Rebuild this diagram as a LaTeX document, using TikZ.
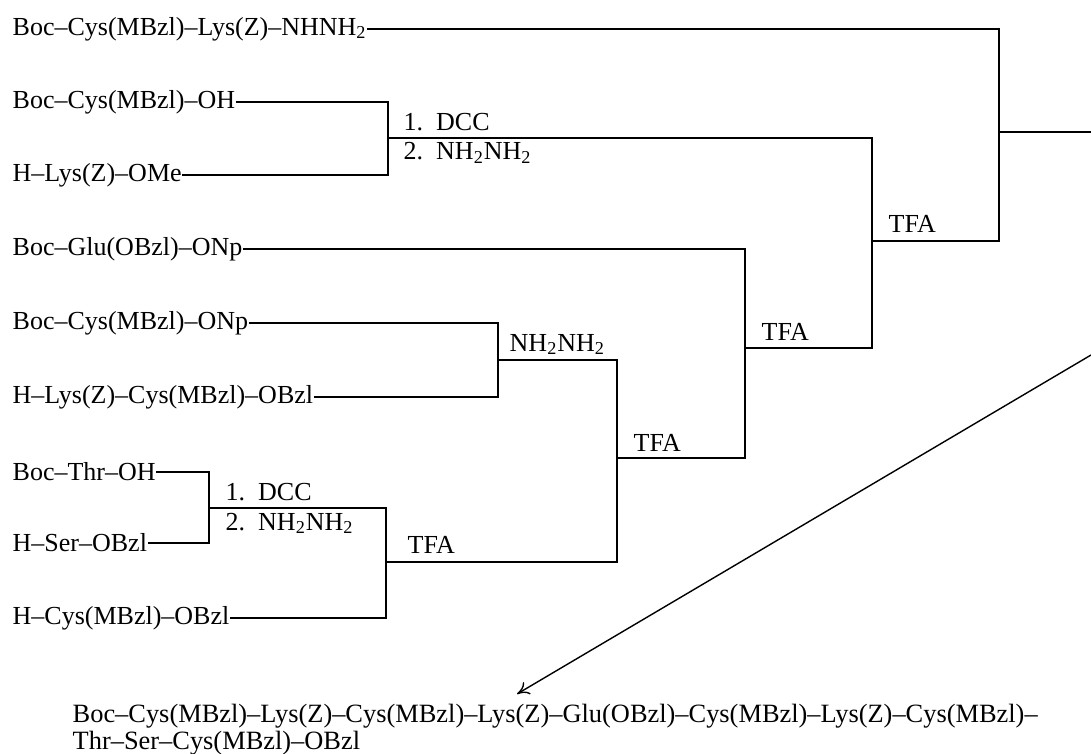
\documentclass[tikz,border=0pt]{standalone}
\usepackage{fontspec}
\setmainfont{Liberation Serif}
\usetikzlibrary{arrows.meta}

\begin{document}
\begin{tikzpicture}[x=0.5pt, y=-0.5pt, line width=0.7pt,
    every node/.style={inner sep=0pt, font=\fontsize{13}{13.5}\selectfont},
    cpd/.style={anchor=west},
    reag/.style={anchor=base west}]
    \useasboundingbox (0,0) rectangle (1091,754);

    % Ausgangsstoffe
    \node[cpd] (a1) at (12,29) {Boc--Cys(MBzl)--Lys(Z)--NHNH\textsubscript{2}};
    \node[cpd] (a2) at (12,102) {Boc--Cys(MBzl)--OH};
    \node[cpd] (a3) at (12,175) {H--Lys(Z)--OMe};
    \node[cpd] (a4) at (12,249) {Boc--Glu(OBzl)--ONp};
    \node[cpd] (a5) at (12,323) {Boc--Cys(MBzl)--ONp};
    \node[cpd] (a6) at (12,397) {H--Lys(Z)--Cys(MBzl)--OBzl};
    \node[cpd] (a7) at (12,472) {Boc--Thr--OH};
    \node[cpd] (a8) at (12,543) {H--Ser--OBzl};
    \node[cpd] (a9) at (12,618) {H--Cys(MBzl)--OBzl};

    % Verzweigungen
    \coordinate (k1) at (388,138);
    \coordinate (k2) at (872,241);
    \coordinate (k3) at (999,132);
    \coordinate (k4) at (745,348);
    \coordinate (k5) at (498,360);
    \coordinate (k6) at (617,458);
    \coordinate (k7) at (209,508);
    \coordinate (k8) at (386,562);
    \coordinate (out) at (1091,132);

    \draw (a2.east) -| (k1) |- (a3.east);
    \draw (k1) -| (k2);
    \draw (k4) -| (k2);
    \draw (a1.east) -| (k3);
    \draw (k2) -| (k3);
    \draw (k3) -- (out);
    \draw (a4.east) -| (k4);
    \draw (k6) -| (k4);
    \draw (a5.east) -| (k5) |- (a6.east);
    \draw (k5) -| (k6);
    \draw (k8) -| (k6);
    \draw (a7.east) -| (k7) |- (a8.east);
    \draw (k7) -| (k8) |- (a9.east);

    % Reagenzien
    \node[reag] (d1) at (403,131) {1.\enspace DCC};
    \node[reag] (d2) at (403,160) {2.\enspace NH\textsubscript{2}NH\textsubscript{2}};
    \node[reag] (t1) at (888,233) {TFA};
    \node[reag] (t2) at (761,340) {TFA};
    \node[reag] (h1) at (509,351) {NH\textsubscript{2}NH\textsubscript{2}};
    \node[reag] (t3) at (633,451) {TFA};
    \node[reag] (d3) at (225,500) {1.\enspace DCC};
    \node[reag] (d4) at (225,530) {2.\enspace NH\textsubscript{2}NH\textsubscript{2}};
    \node[reag] (t4) at (407,553) {TFA};

    % Produkt
    \node[anchor=south west, align=left, font=\fontsize{13.2}{13.5}\selectfont] (prod) at (72,756)
        {Boc--Cys(MBzl)--Lys(Z)--Cys(MBzl)--Lys(Z)--Glu(OBzl)--Cys(MBzl)--Lys(Z)--Cys(MBzl)--\\
         Thr--Ser--Cys(MBzl)--OBzl};
    \coordinate (from) at (1091,355);
    \coordinate (tip) at (517,694);
    \draw[-{To[length=6pt,width=7pt]}] (from) -- (tip);
\end{tikzpicture}
\end{document}
